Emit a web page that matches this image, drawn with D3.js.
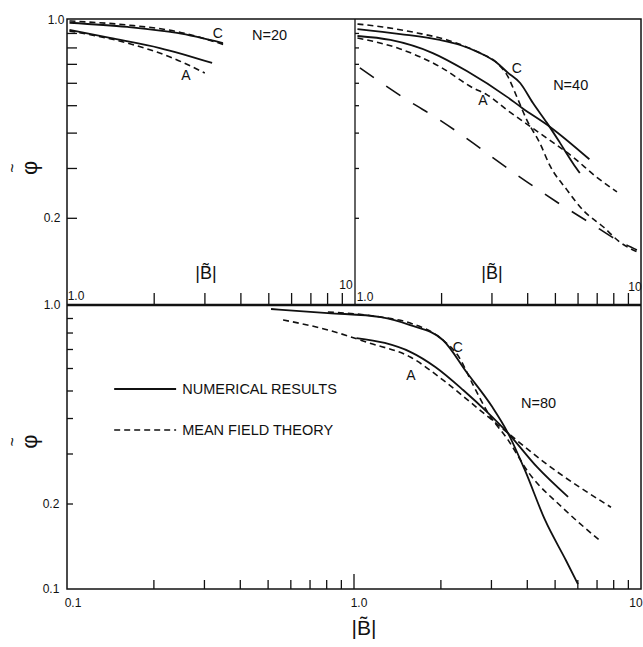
<!DOCTYPE html>
<html>
<head>
<meta charset="utf-8">
<script src="https://cdn.jsdelivr.net/npm/d3@7/dist/d3.min.js"></script>
<style>
  body { margin: 0; background: #fff; }
  text { font-family: "Liberation Sans", Arial, sans-serif; fill: #111; }
</style>
</head>
<body>
<div id="chart"></div>
<script>
// N=20 panel  [|B|, phi]
const n20NumC = [[1.02,0.978],[1.62,0.945],[2.41,0.90],[3.48,0.829]];
const n20MftC = [[1.02,0.992],[1.62,0.96],[2.41,0.91],[3.54,0.816]];
const n20NumA = [[1.02,0.922],[1.41,0.864],[2.10,0.796],[3.19,0.705]];
const n20MftA = [[1.02,0.914],[1.62,0.829],[2.28,0.74],[3.01,0.65]];

// N=40 panel
const n40NumC = [[1.02,0.929],[1.44,0.892],[1.98,0.85],[2.33,0.816],[2.73,0.765],[3.14,0.705],[3.40,0.655],[3.78,0.599],[4.19,0.509],[4.69,0.433],[5.21,0.368],[5.78,0.312],[6.11,0.288]];
const n40MftC = [[1.02,0.968],[1.25,0.945],[1.65,0.90],[2.10,0.85],[2.73,0.765],[3.14,0.705],[3.43,0.629],[3.68,0.535],[3.99,0.443],[4.43,0.367],[4.81,0.305],[5.51,0.251],[6.27,0.213],[7.37,0.186],[8.44,0.164],[9.92,0.150]];
const n40NumA = [[1.02,0.878],[1.33,0.85],[1.87,0.764],[2.46,0.66],[3.40,0.535],[3.84,0.489],[4.81,0.419],[6.6,0.322]];
const n40MftA = [[1.02,0.864],[1.44,0.79],[2.0,0.68],[2.59,0.575],[2.89,0.545],[3.40,0.481],[4.43,0.398],[5.78,0.328],[7.01,0.278],[8.24,0.247]];
const n40Extra = [[1.04,0.677],[1.52,0.522],[1.98,0.443],[2.59,0.367],[3.01,0.328],[3.99,0.268],[5.09,0.227],[6.63,0.192],[8.24,0.167],[9.68,0.154]];

// N=80 panel
const n80NumC = [[0.514,0.968],[0.811,0.937],[1.24,0.907],[1.57,0.85],[2.04,0.753],[2.48,0.576],[3.03,0.438],[3.44,0.354],[3.94,0.262],[4.63,0.175],[5.48,0.126],[6.03,0.104]];
const n80MftC = [[0.811,0.945],[1.24,0.907],[1.57,0.864],[2.04,0.753],[2.32,0.656],[2.58,0.531],[2.93,0.417],[3.44,0.335],[4.07,0.256],[5.31,0.194],[7.14,0.149]];
const n80NumA = [[1.02,0.765],[1.28,0.735],[1.57,0.684],[1.92,0.605],[2.40,0.502],[2.93,0.417],[3.44,0.354],[4.34,0.269],[5.57,0.211]];
const n80MftA = [[0.566,0.886],[0.811,0.817],[1.13,0.735],[1.57,0.656],[2.04,0.545],[2.66,0.438],[3.44,0.354],[4.63,0.278],[7.86,0.194]];

const yTicks = [0.2,0.3,0.4,0.5,0.6,0.7,0.8,0.9];
const xTicksTop = [2,3,4,5,6,7,8,9];
const xTicksBottom = [0.2,0.3,0.4,0.5,0.6,0.7,0.8,0.9,2,3,4,5,6,7,8,9];
const legendItems = ['NUMERICAL RESULTS', 'MEAN FIELD THEORY'];

const width = 643, height = 647;
const left = 67, mid = 355, right = 641;
const topY = 19, splitY = 305, bottomY = 589;

const svg = d3.select('#chart').append('svg')
  .attr('width', width)
  .attr('height', height);

// scales
const xTL = d3.scaleLog().domain([1, 10]).range([left, mid]);
const xTR = d3.scaleLog().domain([1, 10]).range([mid, right]);
const yTop = d3.scaleLog().domain([0.1, 1]).range([splitY - 2, topY + 1]);
const xB = d3.scaleLog().domain([0.1, 10]).range([left, right]);
const yB = d3.scaleLog().domain([0.1, 1]).range([bottomY, splitY]);

const solid = {dash: null, w: 1.8};
const mft = {dash: '6,4', w: 1.6};
const longDash = {dash: '17,15', w: 1.6};

function drawLine(data, x, y, style) {
  const line = d3.line()
    .x(d => x(d[0]))
    .y(d => y(d[1]))
    .curve(d3.curveMonotoneX);
  svg.append('path')
    .datum(data)
    .attr('d', line)
    .attr('fill', 'none')
    .attr('stroke', '#111')
    .attr('stroke-width', style.w)
    .attr('stroke-dasharray', style.dash);
}

// frames
const frame = svg.append('g').attr('stroke', '#111').attr('fill', 'none');
frame.append('rect').attr('x', left).attr('y', topY).attr('width', right - left).attr('height', bottomY - topY).attr('stroke-width', 1.5);
frame.append('line').attr('x1', mid).attr('x2', mid).attr('y1', topY).attr('y2', splitY).attr('stroke-width', 1.3);
frame.append('line').attr('x1', left).attr('x2', right).attr('y1', splitY).attr('y2', splitY).attr('stroke-width', 2.4);

// axes (ticks point inward)
svg.append('g')
  .attr('transform', `translate(${left},0)`)
  .call(d3.axisRight(yTop).tickValues(yTicks).tickSize(10).tickFormat(''))
  .call(g => g.select('.domain').remove());
svg.append('g')
  .attr('transform', `translate(${mid},0)`)
  .call(d3.axisRight(yTop).tickValues(yTicks).tickSize(4).tickFormat(''))
  .call(g => g.select('.domain').remove());
svg.append('g')
  .attr('transform', `translate(${left},0)`)
  .call(d3.axisRight(yB).tickValues(yTicks).tickSize(6).tickFormat(''))
  .call(g => g.select('.domain').remove());

[xTL, xTR].forEach(x => {
  svg.append('g')
    .attr('transform', `translate(0,${splitY})`)
    .call(d3.axisTop(x).tickValues(xTicksTop).tickSize(12).tickFormat(''))
    .call(g => g.select('.domain').remove());
});
svg.append('g')
  .attr('transform', `translate(0,${bottomY})`)
  .call(d3.axisTop(xB).tickValues(xTicksBottom).tickSize(9).tickFormat(''))
  .call(g => g.select('.domain').remove());
svg.append('line')
  .attr('x1', xB(1)).attr('x2', xB(1))
  .attr('y1', bottomY).attr('y2', bottomY - 15)
  .attr('stroke', '#111').attr('stroke-width', 1.3);
svg.selectAll('.tick line').attr('stroke', '#111').attr('stroke-width', 1.3);

// curves
drawLine(n20NumC, xTL, yTop, solid);
drawLine(n20MftC, xTL, yTop, mft);
drawLine(n20NumA, xTL, yTop, solid);
drawLine(n20MftA, xTL, yTop, mft);

drawLine(n40NumC, xTR, yTop, solid);
drawLine(n40MftC, xTR, yTop, mft);
drawLine(n40NumA, xTR, yTop, solid);
drawLine(n40MftA, xTR, yTop, mft);
drawLine(n40Extra, xTR, yTop, longDash);

drawLine(n80NumC, xB, yB, solid);
drawLine(n80MftC, xB, yB, mft);
drawLine(n80NumA, xB, yB, solid);
drawLine(n80MftA, xB, yB, mft);

// text helpers
function label(txt, x, y, size, anchor) {
  return svg.append('text')
    .attr('x', x).attr('y', y)
    .attr('font-size', size)
    .attr('text-anchor', anchor || 'middle')
    .attr('dominant-baseline', 'central')
    .text(txt);
}

// curve labels
label('C', xTL(3.34), yTop(0.90), 14);
label('A', xTL(2.59), yTop(0.639), 14);
label('N=20', xTL(4.39), yTop(0.885), 14.5, 'start');
label('C', xTR(3.68), yTop(0.677), 14);
label('A', xTR(2.80), yTop(0.522), 14);
label('N=40', xTR(4.93), yTop(0.589), 14.5, 'start');
label('C', xB(2.30), yB(0.711), 14);
label('A', xB(1.58), yB(0.567), 14);
label('N=80', xB(3.82), yB(0.452), 14.5, 'start');

// legend
const legY = [yB(0.506), yB(0.363)];
[solid, mft].forEach((s, i) => {
  svg.append('line')
    .attr('x1', xB(0.146)).attr('x2', xB(0.24))
    .attr('y1', legY[i]).attr('y2', legY[i])
    .attr('stroke', '#111').attr('stroke-width', s.w)
    .attr('stroke-dasharray', s.dash);
  label(legendItems[i], xB(0.252), legY[i], 14.5, 'start');
});

// tick labels
label('1.0', left - 11, yTop(1), 12);
label('0.2', left - 15, yTop(0.2), 12);
label('1.0', left - 15, yB(1), 12);
label('0.2', left - 16, yB(0.2), 12);
label('0.1', left - 16, yB(0.1), 12);
label('0.1', xB(0.1) + 6, bottomY + 14, 12);
label('1.0', xB(1) + 5, bottomY + 14, 12);
label('10', xB(10) - 5, bottomY + 14, 12);
label('1.0', xTL(1) + 9, splitY - 9, 12);
label('10', xTL(10) - 9, splitY - 20, 12);
label('1.0', xTR(1) + 10, splitY - 8, 12);
label('10', xTR(10) - 6, splitY - 18, 12);

// axis titles
label('|B̃|', (xTL(1) + xTL(10)) / 2 - 5, 273, 18);
label('|B̃|', (xTR(1) + xTR(10)) / 2 - 6, 273, 18);
label('|B̃|', xB(1) + 10, 627, 21);

// rotated phi-tilde: tilde drawn above the phi, then the pair is turned
function phiLabel(cy) {
  const g = svg.append('g').attr('transform', `translate(27,${cy}) rotate(-90)`);
  g.append('text')
    .attr('font-size', 22)
    .attr('text-anchor', 'middle')
    .attr('dominant-baseline', 'central')
    .attr('y', 2)
    .text('φ');
  g.append('text')
    .attr('font-size', 16)
    .attr('text-anchor', 'middle')
    .attr('dominant-baseline', 'central')
    .attr('y', -15)
    .text('~');
}
phiLabel(yTop(0.3));
phiLabel(yB(0.33));
</script>
</body>
</html>
